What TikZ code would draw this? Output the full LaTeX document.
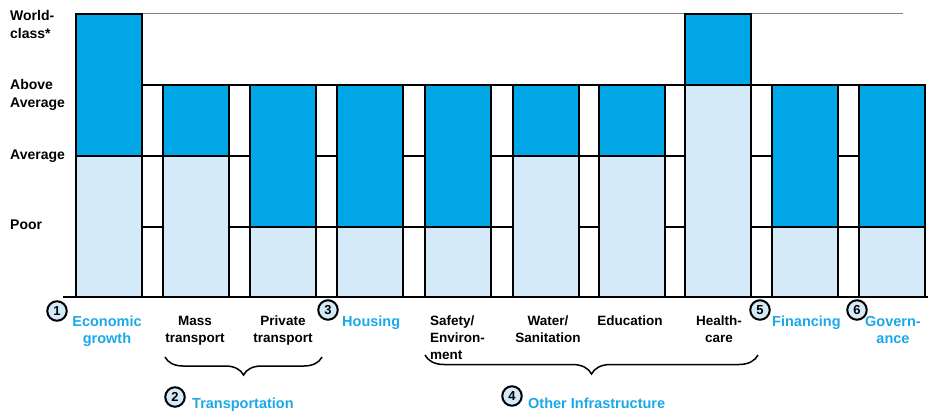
\documentclass[tikz,border=0pt]{standalone}
\usepackage{fontspec}
\setmainfont{Liberation Sans}
\usetikzlibrary{decorations.pathreplacing}
\definecolor{dblue}{RGB}{0,166,230}
\definecolor{lblue}{RGB}{212,234,248}
\definecolor{tblue}{RGB}{27,168,232}
\begin{document}
\begin{tikzpicture}[x=1pt,y=-1pt,
 lab/.style={inner sep=0pt, font=\fontsize{14}{18}\selectfont\bfseries, align=left, anchor=north west},
 cat/.style={inner sep=0pt, font=\fontsize{13.5}{17}\selectfont\bfseries, align=center, anchor=north},
 bcat/.style={cat, text=tblue, font=\fontsize{14.5}{17}\selectfont\bfseries},
 num/.style={circle, draw, line width=2pt, fill=lblue, minimum size=19.5pt, inner sep=0pt, font=\fontsize{13}{13}\selectfont\bfseries},
 gridl/.style={line width=1.8pt},
 bar/.style={draw, line width=1.8pt},
 brc/.style={decorate, decoration={brace, mirror, amplitude=#1}, line width=1.5pt}]
\useasboundingbox (0,0) rectangle (928,414);
% grid lines
\foreach \y in {85,156,227} \draw[gridl] (142,\y) -- (925,\y);
\draw[gray, line width=1pt] (142,14) -- (903,14);
% bars
\foreach \x/\t/\s in {76/14/156, 163/85/156, 250/85/227, 337/85/227, 425/85/227, 513/85/156, 599/85/156, 685/14/85, 772/85/227, 859/85/227} {
  \fill[dblue] (\x,\t) rectangle (\x+66,\s);
  \fill[lblue] (\x,\s) rectangle (\x+66,297);
  \draw[bar] (\x,\t) rectangle (\x+66,297);
  \draw[bar] (\x,\s) -- (\x+66,\s);
}
\draw[line width=2.2pt] (63,297) -- (928,297);
% left labels
\node[lab] (wc) at (10,10) {World-\\class*};
\node[lab] (aa) at (10,79) {Above\\Average};
\node[lab] (av) at (10,150) {Average};
\node[lab] (po) at (10,220) {Poor};
% bottom labels
\node[bcat] (eg) at (107,316) {Economic\\growth};
\node[cat] (mt) at (195,316) {Mass\\transport};
\node[cat] (pt) at (283,316) {Private\\transport};
\node[bcat, anchor=north west] (ho) at (342,316) {Housing};
\node[cat, align=left, anchor=north west] (se) at (430,316) {Safety/\\Environ-\\ment};
\node[cat] (ws) at (548,316) {Water/\\Sanitation};
\node[cat] (ed) at (630,316) {Education};
\node[cat] (hc) at (719,316) {Health-\\care};
\node[bcat, anchor=north west] (fi) at (772,316) {Financing};
\node[bcat] (go) at (893,316) {Govern-\\ance};
% circled numbers
\node[num] (n1) at (57,311) {1};
\node[num] (n2) at (175,397) {2};
\node[num] (n3) at (328,310) {3};
\node[num] (n4) at (512,396) {4};
\node[num] (n5) at (760,310) {5};
\node[num] (n6) at (857,310) {6};
% group labels
\node[bcat, anchor=north west] (tr) at (192,398) {Transportation};
\node[bcat, anchor=north west] (oi) at (528,398) {Other Infrastructure};
% braces
\coordinate (b1l) at (165,357);
\coordinate (b1r) at (322,357);
\draw[brc=18pt] (b1l) -- (b1r);
\coordinate (b2l) at (425,355);
\coordinate (b2r) at (758,355);
\draw[brc=19pt] (b2l) -- (b2r);
\end{tikzpicture}
\end{document}
